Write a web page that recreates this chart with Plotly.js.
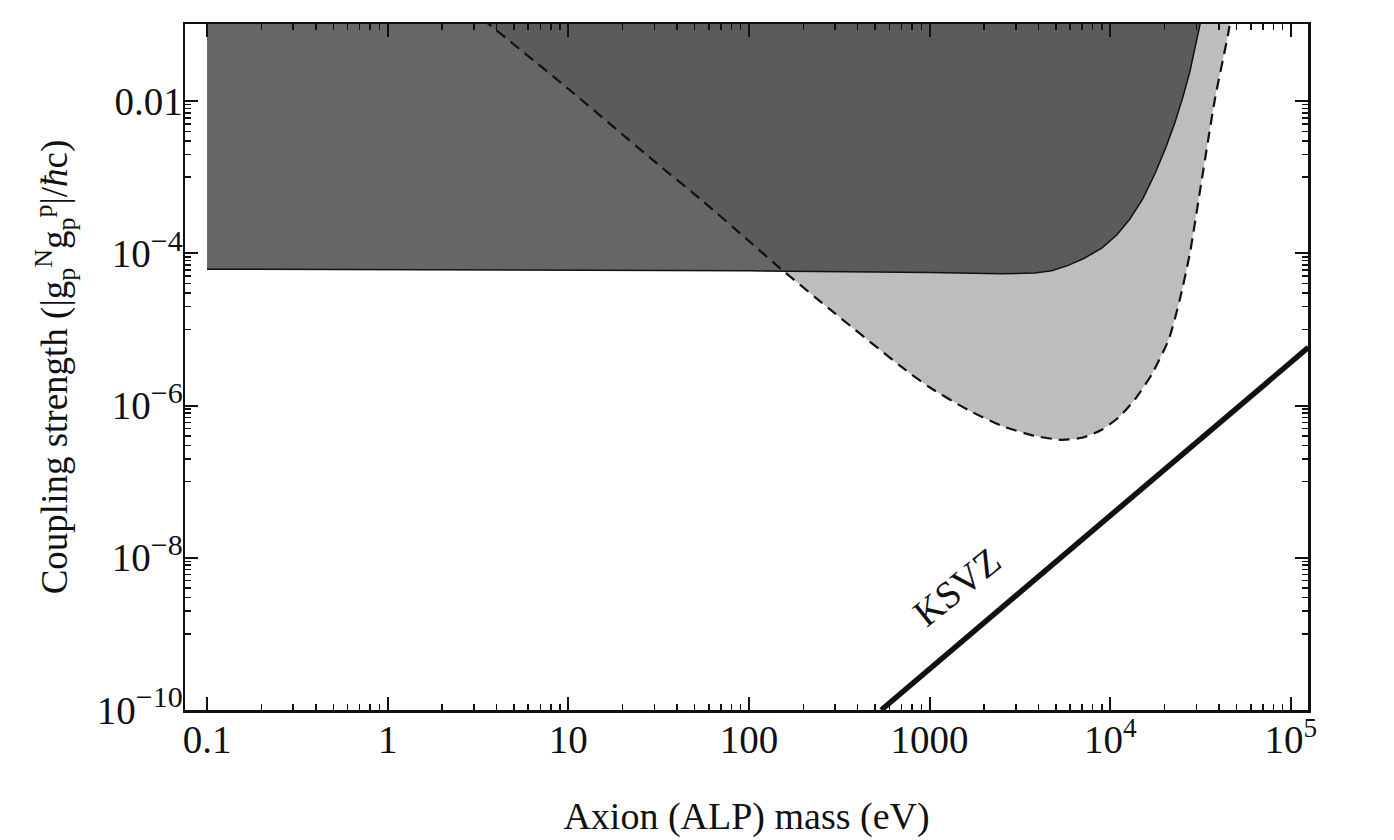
<!DOCTYPE html>
<html>
<head>
<meta charset="utf-8">
<script src="https://cdn.plot.ly/plotly-3.0.1.min.js"></script>
<style>html,body{margin:0;padding:0;background:#fff;}#chart{width:1394px;height:840px;}</style>
</head>
<body>
<div id="chart"></div>
<script>
// Dashed boundary (light grey excluded region), mass in eV, coupling
const dashedMass = [3.35, 10, 31.6, 54.2, 100, 150.7, 296, 697, 1000, 1641, 2512, 3811, 5383, 7079, 8974, 11220, 13680, 16980, 21090, 24270, 27610, 32140, 38020, 44870, 46400];
const dashedCoupling = [0.12, 0.0145, 1.45e-3, 5.1e-4, 1.45e-4, 6.2e-5, 1.66e-5, 3.24e-6, 1.74e-6, 8.7e-7, 5.4e-7, 4.0e-7, 3.55e-7, 3.8e-7, 4.8e-7, 7.1e-7, 1.2e-6, 2.57e-6, 7.4e-6, 2.45e-5, 1.0e-4, 9.3e-4, 1.07e-2, 7.4e-2, 0.12];

// Solid boundary (dark excluded region)
const solidMass = [0.1, 1, 10, 100, 1000, 2512, 3811, 4742, 5808, 7129, 8974, 10870, 12820, 15140, 17660, 20320, 22800, 25230, 27610, 29790, 31900];
const solidCoupling = [6.2e-5, 6.1e-5, 6.0e-5, 5.9e-5, 5.6e-5, 5.4e-5, 5.5e-5, 5.9e-5, 6.9e-5, 8.5e-5, 1.17e-4, 1.74e-4, 2.8e-4, 5.2e-4, 1.1e-3, 2.45e-3, 5.2e-3, 1.12e-2, 2.45e-2, 5.6e-2, 0.12];
const solidRegionTop = 0.12;

// KSVZ model line
const ksvzMass = [540, 1.25e5];
const ksvzCoupling = [1.0e-10, 5.8e-6];

// Tick labels
const xTickVals = [0.1, 1, 10, 100, 1000, 1e4, 1e5];
const xTickText = ['0.1', '1', '10', '100', '1000', '10<sup>4</sup>', '10<sup>5</sup>'];
const yTickVals = [1e-10, 1e-8, 1e-6, 1e-4, 1e-2];
const yTickText = ['10<sup><span style="font-size:30px">\u221210</span></sup>', '10<sup><span style="font-size:30px">\u22128</span></sup>',
  '10<sup><span style="font-size:30px">\u22126</span></sup>', '10<sup><span style="font-size:30px">\u22124</span></sup>', '0.01'];

// minor tick positions
const xMinor = [];
for (let e = -1; e <= 4; e++) for (let j = 2; j <= 9; j++) xMinor.push(j * Math.pow(10, e));
const yMinor = [];
for (let e = -9; e <= -3; e += 2) for (let j = 1; j <= 9; j++) yMinor.push(j * Math.pow(10, e));

const font = '"Liberation Serif", "Times New Roman", serif';
const ink = '#111';
const curve = { shape: 'spline', smoothing: 0.6 };

const traces = [
  { x: dashedMass, y: dashedCoupling, type: 'scatter', mode: 'lines', fill: 'toself',
    fillcolor: '#bdbdbd', line: Object.assign({ width: 0, color: 'rgba(0,0,0,0)' }, curve), hoverinfo: 'skip' },
  { x: [solidMass[0]].concat(solidMass), y: [solidRegionTop].concat(solidCoupling), type: 'scatter', mode: 'lines', fill: 'toself',
    fillcolor: 'rgba(71,71,71,0.83)', line: { width: 0, color: 'rgba(0,0,0,0)' }, hoverinfo: 'skip' },
  { x: dashedMass, y: dashedCoupling, type: 'scatter', mode: 'lines',
    line: Object.assign({ color: ink, width: 2.2, dash: '11px,7px' }, curve) },
  { x: solidMass, y: solidCoupling, type: 'scatter', mode: 'lines',
    line: { color: ink, width: 1.5 } },
  { x: ksvzMass, y: ksvzCoupling, type: 'scatter', mode: 'lines',
    line: { color: ink, width: 5.5 } }
];

const axisCommon = {
  type: 'log', showgrid: false, zeroline: false, showline: true, linecolor: ink, linewidth: 2.5,
  mirror: 'allticks', ticks: 'inside', ticklen: 13, tickwidth: 2, tickcolor: ink,
  tickfont: { family: font, size: 39, color: ink }, tickmode: 'array'
};

const layout = {
  width: 1394, height: 840,
  margin: { l: 185, r: 86, t: 24, b: 130 },
  paper_bgcolor: '#fff', plot_bgcolor: '#fff',
  showlegend: false,
  font: { family: font, color: ink },
  xaxis: Object.assign({}, axisCommon, {
    range: [-1.122, 5.095], tickvals: xTickVals, ticktext: xTickText, ticklabelstandoff: -6,
    minor: { tickmode: 'array', tickvals: xMinor, ticks: 'inside', ticklen: 6, tickwidth: 1.5, tickcolor: ink },
    title: { text: 'Axion (ALP) mass (eV)', font: { family: font, size: 38, color: ink }, standoff: 42 }
  }),
  yaxis: Object.assign({}, axisCommon, {
    range: [-10, -0.987], tickvals: yTickVals, ticktext: yTickText, ticklabelstandoff: -8,
    minor: { tickmode: 'array', tickvals: yMinor, ticks: 'inside', ticklen: 6, tickwidth: 1.5, tickcolor: ink },
    title: { text: 'Coupling strength (|g<sub>p</sub><sup>N</sup>g<sub>p</sub><sup>p</sup>|/<i>\u0127</i>c)',
      font: { family: font, size: 37, color: ink }, standoff: 18 }
  }),
  annotations: [{
    x: 3.149, y: -8.38, xref: 'x', yref: 'y', text: 'KSVZ', showarrow: false, textangle: -39,
    font: { family: font, size: 38, color: ink }
  }]
};

Plotly.newPlot('chart', traces, layout, { displayModeBar: false, staticPlot: true });
</script>
</body>
</html>
